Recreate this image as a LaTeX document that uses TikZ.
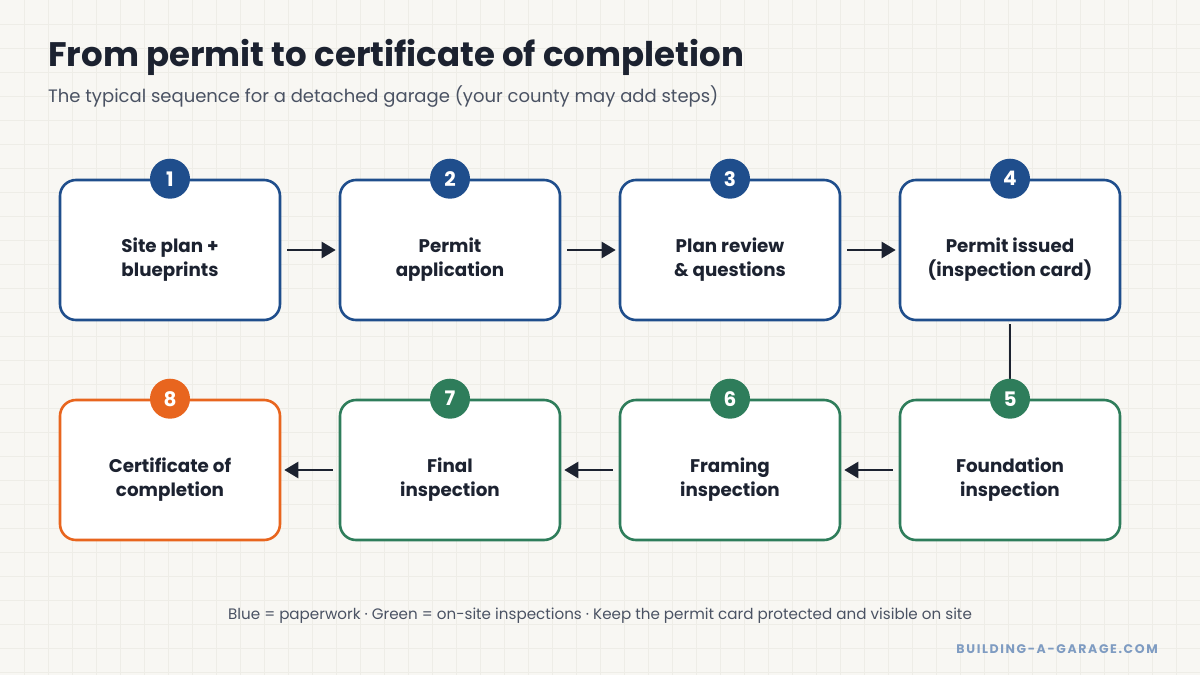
\documentclass[tikz,border=0pt]{standalone}
\usepackage{fontspec}
\setmainfont{Poppins}
\usetikzlibrary{arrows.meta}
\definecolor{bgc}{HTML}{F8F7F3}
\definecolor{gridc}{HTML}{EEEDE7}
\definecolor{ink}{HTML}{1C2230}
\definecolor{sub}{HTML}{4A5263}
\definecolor{pblue}{HTML}{1F4E8C}
\definecolor{pgreen}{HTML}{2E7D5B}
\definecolor{porange}{HTML}{E8651E}
\definecolor{urlc}{HTML}{7F9CC2}
\tikzset{
  stepbox/.style={draw, fill=white, line width=2.6pt, rounded corners=16pt,
    minimum width=220pt, minimum height=140pt, inner sep=0pt},
  steptext/.style={align=center, inner sep=0pt, text=ink,
    font=\fontsize{18.3}{24}\selectfont\bfseries},
  badge/.style={circle, minimum size=40pt, inner sep=0pt, text=white,
    font=\fontsize{20}{20}\selectfont\bfseries},
  arr/.style={line width=2.5pt, draw=ink, -{Triangle[length=14pt,width=16pt]}},
  conn/.style={line width=2.5pt, draw=ink}
}
\begin{document}
\begin{tikzpicture}[x=1pt,y=-1pt]
\useasboundingbox (0,0) rectangle (1200,675);
\fill[bgc] (0,0) rectangle (1200,675);
\foreach \i in {24,48,...,1200} \draw[gridc, line width=0.8pt] (\i,0) -- (\i,675);
\foreach \j in {24,48,...,675} \draw[gridc, line width=0.8pt] (0,\j) -- (1200,\j);

\node[anchor=base west, text=ink, font=\fontsize{34}{38}\selectfont\bfseries, inner sep=0pt] (title) at (48,66) {From permit to certificate of completion};
\node[anchor=base west, text=sub, font=\fontsize{18}{22}\selectfont, inner sep=0pt] (subtitle) at (48,102) {The typical sequence for a detached garage (your county may add steps)};

\node[stepbox, draw=pblue] (b1) at (170,250) {};
\node[stepbox, draw=pblue] (b2) at (450,250) {};
\node[stepbox, draw=pblue] (b3) at (730,250) {};
\node[stepbox, draw=pblue] (b4) at (1010,250) {};
\node[stepbox, draw=pgreen] (b5) at (1010,470) {};
\node[stepbox, draw=pgreen] (b6) at (730,470) {};
\node[stepbox, draw=pgreen] (b7) at (450,470) {};
\node[stepbox, draw=porange] (b8) at (170,470) {};

\node[steptext] (t1) at ([yshift=-10pt]b1.center) {Site plan +\\blueprints};
\node[steptext] (t2) at ([yshift=-10pt]b2.center) {Permit\\application};
\node[steptext] (t3) at ([yshift=-10pt]b3.center) {Plan review\\\& questions};
\node[steptext] (t4) at ([yshift=-10pt]b4.center) {Permit issued\\(inspection card)};
\node[steptext] (t5) at ([yshift=-10pt]b5.center) {Foundation\\inspection};
\node[steptext] (t6) at ([yshift=-10pt]b6.center) {Framing\\inspection};
\node[steptext] (t7) at ([yshift=-10pt]b7.center) {Final\\inspection};
\node[steptext] (t8) at ([yshift=-10pt]b8.center) {Certificate of\\completion};

\draw[arr] ([xshift=6pt]b1.east) -- ([xshift=-3pt]b2.west);
\draw[arr] ([xshift=6pt]b2.east) -- ([xshift=-3pt]b3.west);
\draw[arr] ([xshift=6pt]b3.east) -- ([xshift=-3pt]b4.west);
\draw[conn] ([yshift=-3pt]b4.south) -- ([yshift=2pt]b5.north);
\draw[arr] ([xshift=-6pt]b5.west) -- ([xshift=3pt]b6.east);
\draw[arr] ([xshift=-6pt]b6.west) -- ([xshift=3pt]b7.east);
\draw[arr] ([xshift=-6pt]b7.west) -- ([xshift=3pt]b8.east);

\node[badge, fill=pblue] (n1) at (b1.north) {1};
\node[badge, fill=pblue] (n2) at (b2.north) {2};
\node[badge, fill=pblue] (n3) at (b3.north) {3};
\node[badge, fill=pblue] (n4) at (b4.north) {4};
\node[badge, fill=pgreen] (n5) at (b5.north) {5};
\node[badge, fill=pgreen] (n6) at (b6.north) {6};
\node[badge, fill=pgreen] (n7) at (b7.north) {7};
\node[badge, fill=porange] (n8) at (b8.north) {8};

\node[anchor=base, text=sub, font=\fontsize{15.15}{18}\selectfont, inner sep=0pt] (footer) at (600,619) {Blue = paperwork · Green = on-site inspections · Keep the permit card protected and visible on site};
\node[anchor=base east, text=urlc, font=\fontsize{12.5}{14}\selectfont\bfseries\addfontfeatures{LetterSpace=13}, inner sep=0pt] (url) at (1158,653) {BUILDING-A-GARAGE.COM};
\end{tikzpicture}
\end{document}
